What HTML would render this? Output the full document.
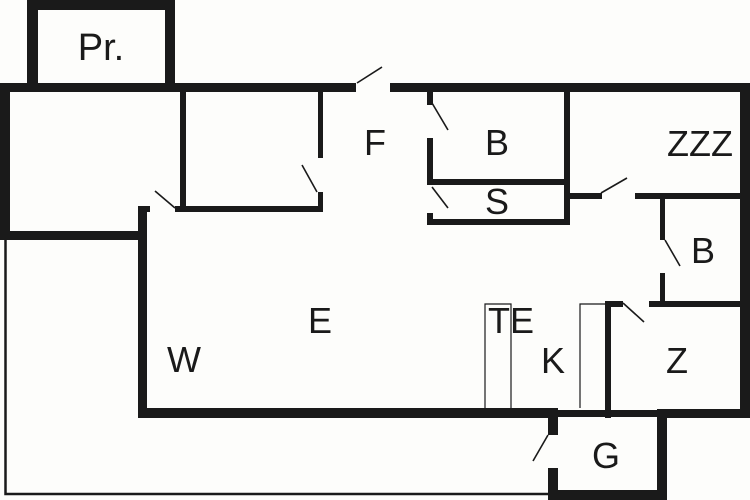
<!DOCTYPE html>
<html><head><style>
html,body{margin:0;padding:0;background:#fdfdfb;}
svg{display:block;}
text{font-family:"Liberation Sans",sans-serif;font-size:36px;fill:#1a1a1a;text-anchor:middle;}
</style></head><body>
<svg width="750" height="500" viewBox="0 0 750 500" xmlns="http://www.w3.org/2000/svg">
<rect width="750" height="500" fill="#fdfdfb"/>
<g fill="#1a1a1a">
<rect x="27" y="0" width="148" height="10"/>
<rect x="27" y="0" width="11" height="91"/>
<rect x="165" y="0" width="10" height="91"/>
<rect x="0" y="83" width="356" height="9"/>
<rect x="390" y="83" width="360" height="9"/>
<rect x="740" y="83" width="10" height="335"/>
<rect x="0" y="83" width="10" height="157"/>
<rect x="0" y="231" width="147" height="9"/>
<rect x="138" y="206" width="9" height="212"/>
<rect x="138" y="206" width="12" height="6"/>
<rect x="180" y="91" width="6" height="121"/>
<rect x="175" y="206" width="148" height="6"/>
<rect x="318" y="91" width="5" height="67"/>
<rect x="318" y="192" width="5" height="20"/>
<rect x="427" y="91" width="6" height="14"/>
<rect x="427" y="138" width="6" height="47"/>
<rect x="427" y="213" width="6" height="12"/>
<rect x="427" y="179" width="142" height="6"/>
<rect x="564" y="91" width="6" height="134"/>
<rect x="427" y="219" width="143" height="6"/>
<rect x="564" y="193" width="38" height="6"/>
<rect x="635" y="193" width="115" height="6"/>
<rect x="660" y="193" width="5" height="47"/>
<rect x="660" y="273" width="5" height="34"/>
<rect x="605" y="301" width="18" height="6"/>
<rect x="649" y="301" width="91" height="6"/>
<rect x="605" y="301" width="6" height="117"/>
<rect x="138" y="408" width="420" height="10"/>
<rect x="558" y="410" width="100" height="7"/>
<rect x="657" y="409" width="93" height="9"/>
<rect x="548" y="408" width="10" height="27"/>
<rect x="548" y="468" width="10" height="32"/>
<rect x="657" y="409" width="10" height="91"/>
<rect x="548" y="490" width="119" height="10"/>
</g>
<g stroke="#1a1a1a" fill="none">
<polyline points="5.5,240 5.5,494 548,494" stroke-width="2.5"/>
<polyline points="485,408 485,304 511,304 511,408" stroke-width="1.2"/>
<polyline points="580,408 580,304 605,304" stroke-width="1.2"/>
<g stroke-width="1.6">
<line x1="357" y1="83" x2="382" y2="67"/>
<line x1="175" y1="208" x2="155" y2="191"/>
<line x1="317" y1="192" x2="302" y2="165"/>
<line x1="432" y1="103" x2="448" y2="130"/>
<line x1="432" y1="187" x2="448" y2="208"/>
<line x1="601" y1="193" x2="627" y2="178"/>
<line x1="665" y1="240" x2="680" y2="266"/>
<line x1="623" y1="303" x2="644" y2="322"/>
<line x1="548" y1="435" x2="533" y2="461"/>
</g>
</g>
<text x="101" y="60" style="font-size:38px">Pr.</text>
<text x="375" y="155">F</text>
<text x="497" y="155">B</text>
<text x="700" y="156">ZZZ</text>
<text x="497" y="214">S</text>
<text x="703" y="263">B</text>
<text x="320" y="333">E</text>
<text x="511" y="333">TE</text>
<text x="553" y="373">K</text>
<text x="184" y="372">W</text>
<text x="677" y="373">Z</text>
<text x="606" y="468">G</text>
</svg>
</body></html>
